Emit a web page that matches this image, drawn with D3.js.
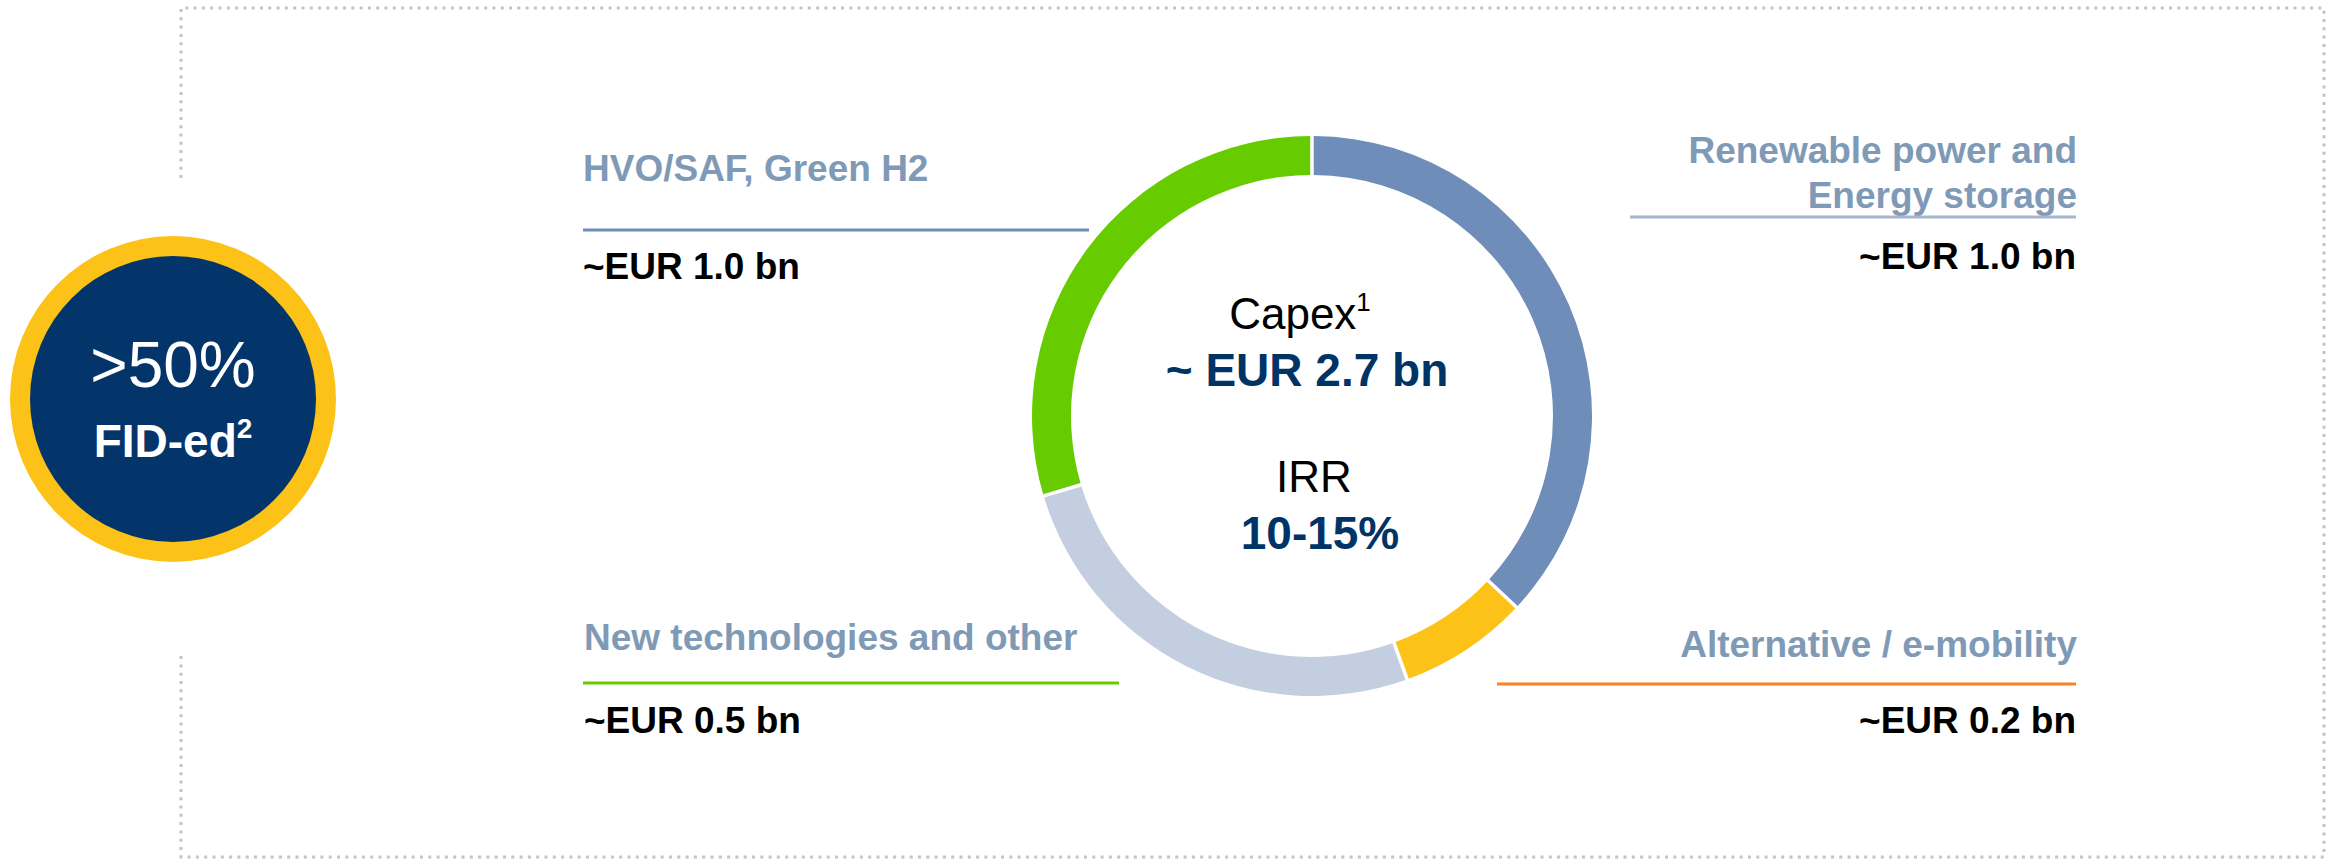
<!DOCTYPE html>
<html>
<head>
<meta charset="utf-8">
<script src="https://cdn.jsdelivr.net/npm/d3@7.9.0/dist/d3.min.js"></script>
<style>
  body { margin: 0; background: #fff; }
  svg { display: block; font-family: "Liberation Sans", Arial, sans-serif; }
</style>
</head>
<body>
<svg id="chart" width="2333" height="860"></svg>
<script>
// segments, clockwise from 12 o'clock
const segments = ['Renewable power and Energy storage', 'Alternative / e-mobility', 'New technologies and other', 'HVO/SAF, Green H2'];
// arc sizes as drawn in the picture (EUR bn)
const arcValues = [1.0, 0.2, 0.7, 0.8];
const amountLabels = ['~EUR 1.0 bn', '~EUR 0.2 bn', '~EUR 0.5 bn', '~EUR 1.0 bn'];
const segColors = ['#6f8db9', '#fdc217', '#c3cfe1', '#66cc00'];
const ruleColors = ['#a4b6ce', '#ff7f27', '#66cc00', '#6f8db9'];

const capexTitle = 'Capex';
const capexValue = '~ EUR 2.7 bn';
const irrTitle = 'IRR';
const irrValue = '10-15%';
const fidShare = '>50%';
const fidLabel = 'FID-ed';

const labelGrey = '#7f9ab6';
const navy = '#003366';

let svg = d3.select('#chart');

// dotted frame, left side broken around the badge
let frame = svg.append('g')
    .attr('fill', 'none')
    .attr('stroke', '#c4c4c4')
    .attr('stroke-width', 3)
    .attr('stroke-dasharray', '3 5.3');
frame.append('path').attr('d', 'M181,178 L181,8 L2324,8 L2324,857 L181,857 L181,653');

// badge on the left
let badge = svg.append('g').attr('transform', 'translate(173,399)');
badge.append('circle').attr('r', 163).attr('fill', '#fdc217');
badge.append('circle').attr('r', 143).attr('fill', '#03356a');
badge.append('text')
    .attr('x', 0).attr('y', -12)
    .attr('text-anchor', 'middle')
    .attr('fill', '#fff')
    .attr('font-size', 64)
    .text(fidShare);
let fid = badge.append('text')
    .attr('x', 0).attr('y', 58)
    .attr('text-anchor', 'middle')
    .attr('fill', '#fff')
    .attr('font-size', 46)
    .attr('font-weight', 'bold');
fid.append('tspan').text(fidLabel);
fid.append('tspan').attr('font-size', 28).attr('dy', -19).text('2');

// donut
const cx = 1312, cy = 416;
let pie = d3.pie().sort(null).value((d) => d).padAngle(0.0095);
let arcGen = d3.arc().innerRadius(241).outerRadius(280);
let arcData = pie(arcValues);

let ring = svg.append('g').attr('transform', `translate(${cx},${cy})`);
ring.selectAll('path')
    .data(arcData)
    .join('path')
    .attr('d', arcGen)
    .attr('fill', (d, i) => segColors[i]);

// centre text
let capex = svg.append('text')
    .attr('x', 1300).attr('y', 329)
    .attr('text-anchor', 'middle')
    .attr('font-size', 44)
    .attr('fill', '#000');
capex.append('tspan').text(capexTitle);
capex.append('tspan').attr('font-size', 26).attr('dy', -18).text('1');

svg.append('text')
    .attr('x', 1307).attr('y', 386)
    .attr('text-anchor', 'middle')
    .attr('font-size', 46)
    .attr('font-weight', 'bold')
    .attr('fill', navy)
    .text(capexValue);

svg.append('text')
    .attr('x', 1314).attr('y', 492)
    .attr('text-anchor', 'middle')
    .attr('font-size', 44)
    .attr('fill', '#000')
    .text(irrTitle);

svg.append('text')
    .attr('x', 1320).attr('y', 549)
    .attr('text-anchor', 'middle')
    .attr('font-size', 46)
    .attr('font-weight', 'bold')
    .attr('fill', navy)
    .text(irrValue);

// segment labels: title lines, coloured rule, amount
const labelSpots = [
    { anchor: 'end', x: 2077, titleY: [163, 208], ruleX: [1630, 2076], ruleY: 217, amountY: 269, lines: ['Renewable power and', 'Energy storage'] },
    { anchor: 'end', x: 2077, titleY: [657], ruleX: [1497, 2076], ruleY: 684, amountY: 733, lines: ['Alternative / e-mobility'] },
    { anchor: 'start', x: 584, titleY: [650], ruleX: [583, 1119], ruleY: 683, amountY: 733, lines: ['New technologies and other'] },
    { anchor: 'start', x: 583, titleY: [181], ruleX: [583, 1089], ruleY: 230, amountY: 279, lines: ['HVO/SAF, Green H2'] }
];

let labels = svg.append('g')
    .attr('font-size', 37)
    .attr('font-weight', 'bold');

segments.forEach((name, i) => {
    let spot = labelSpots[i];
    let g = labels.append('g').attr('class', 'segment-label').attr('data-name', name);

    spot.lines.forEach((line, j) => {
        g.append('text')
            .attr('x', spot.x)
            .attr('y', spot.titleY[j])
            .attr('text-anchor', spot.anchor)
            .attr('fill', labelGrey)
            .text(line);
    });

    g.append('line')
        .attr('x1', spot.ruleX[0]).attr('x2', spot.ruleX[1])
        .attr('y1', spot.ruleY).attr('y2', spot.ruleY)
        .attr('stroke', ruleColors[i])
        .attr('stroke-width', 3);

    g.append('text')
        .attr('x', spot.anchor === 'end' ? spot.x - 1 : spot.x)
        .attr('y', spot.amountY)
        .attr('text-anchor', spot.anchor)
        .attr('fill', '#000')
        .text(amountLabels[i]);
});
</script>
</body>
</html>
